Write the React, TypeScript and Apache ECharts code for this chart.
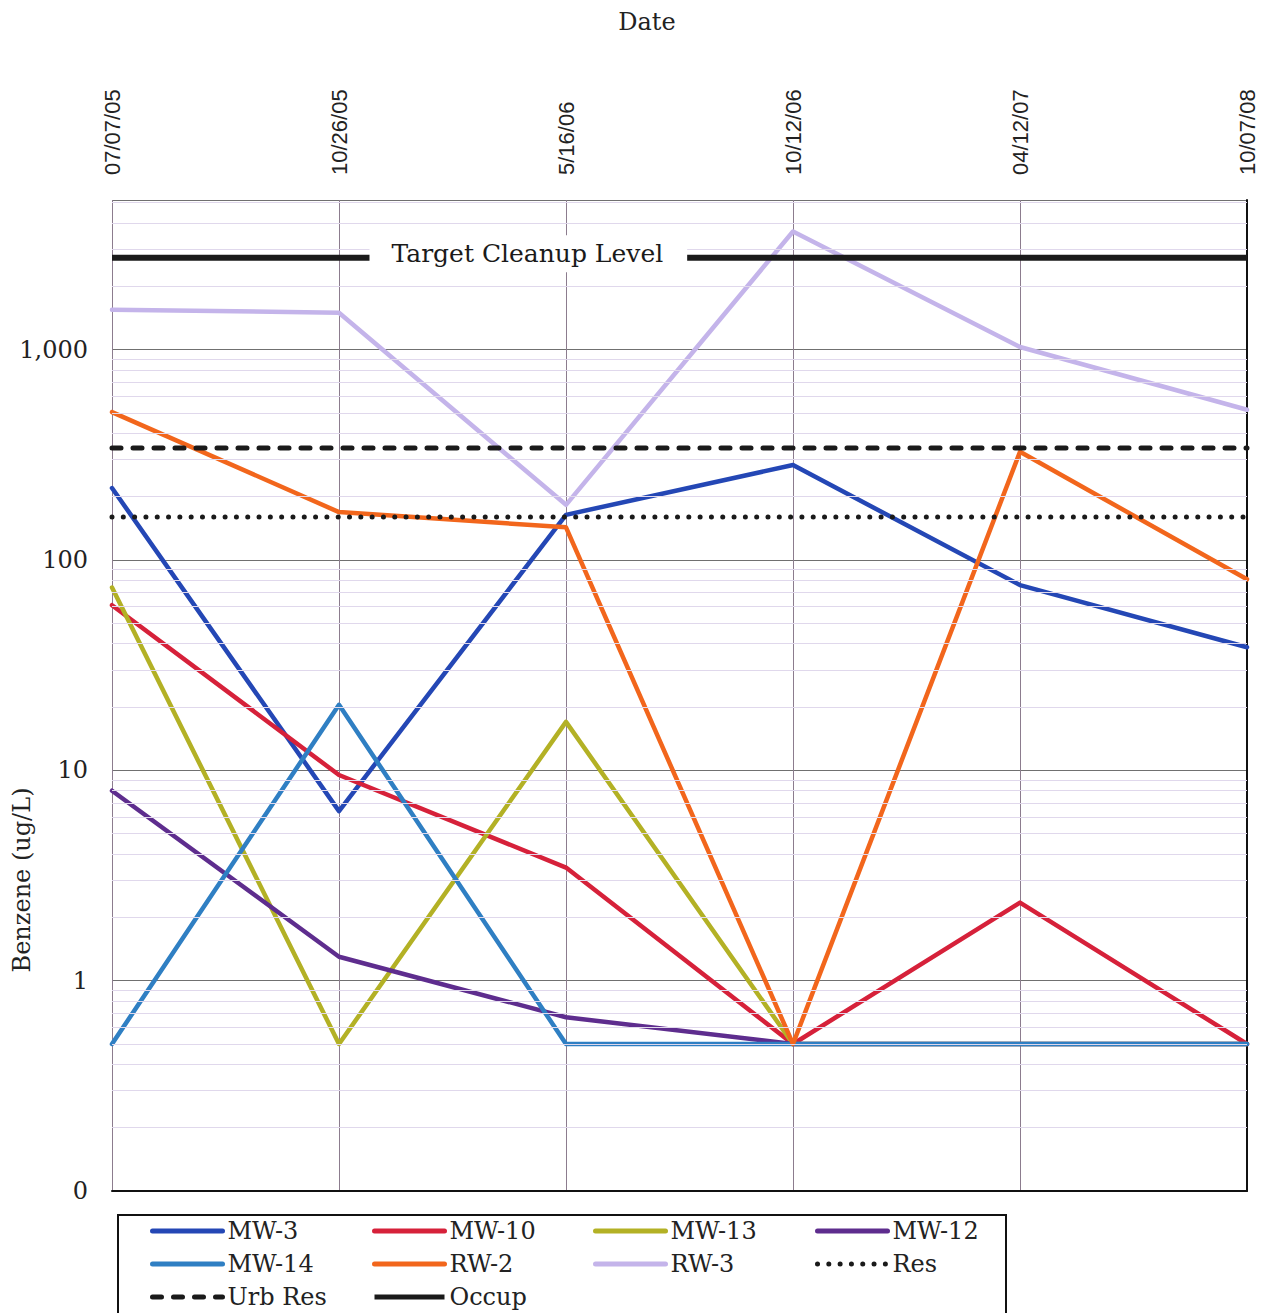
import React, { useEffect, useRef } from 'react';
import * as echarts from 'echarts';

const categories = ['07/07/05', '10/26/05', '5/16/06', '10/12/06', '04/12/07', '10/07/08'];
const mw3 = [220, 6.4, 164, 283, 76, 38.5];
const mw10 = [61, 9.5, 3.45, 0.5, 2.35, 0.5];
const mw13 = [74, 0.5, 17, 0.5, 0.5, 0.5];
const mw12 = [8.0, 1.3, 0.67, 0.5, 0.5, 0.5];
const mw14 = [0.5, 20.5, 0.5, 0.5, 0.5, 0.5];
const rw2 = [505, 169, 143, 0.5, 327, 81];
const rw3 = [1550, 1500, 183, 3650, 1030, 518];
const res = [160, 160, 160, 160, 160, 160];
const urbRes = [341, 341, 341, 341, 341, 341];
const occup = [2740, 2740, 2740, 2740, 2740, 2740];

const yMajorTicks = [0.1, 1, 10, 100, 1000];
const yTickLabels = ['0', '1', '10', '100', '1,000'];
const yMinorTicks = [
  0.2, 0.3, 0.4, 0.5, 0.6, 0.7, 0.8, 0.9,
  2, 3, 4, 5, 6, 7, 8, 9,
  20, 30, 40, 50, 60, 70, 80, 90,
  200, 300, 400, 500, 600, 700, 800, 900,
  2000, 3000, 4000, 5000,
];
const yMin = 0.1;
const yMax = 5150;

const SERIF = 'DejaVu Serif';
const SANS = 'Liberation Sans';

export default function App() {
  const ref = useRef<HTMLDivElement>(null);

  useEffect(() => {
    if (!ref.current) return;
    const chart = echarts.init(ref.current, null, { renderer: 'svg' });

    const lineSeries = (name: string, data: any[], color: string, style: any = {}) => ({
      type: 'line',
      name,
      data,
      symbol: 'none',
      xAxisIndex: 0,
      yAxisIndex: 0,
      color,
      itemStyle: { color },
      lineStyle: { color, width: 4.5, cap: 'round', join: 'round', ...style },
      emphasis: { disabled: true },
    });

    const legendBase = {
      orient: 'vertical',
      padding: 0,
      itemWidth: 70,
      itemHeight: 24,
      itemGap: 9,
      top: 1219,
      textStyle: { fontFamily: SERIF, fontSize: 24, color: '#222', lineHeight: 24 },
      selectedMode: false,
      itemStyle: { opacity: 0 },
      lineStyle: { width: 5 },
    };

    chart.setOption({
      animation: false,
      backgroundColor: '#ffffff',
      grid: { left: 112, right: 23, top: 200, bottom: 122, outerBoundsMode: 'none' },
      xAxis: [
        {
          type: 'category',
          data: categories,
          boundaryGap: false,
          position: 'top',
          axisLine: { show: false },
          axisTick: { show: false },
          axisLabel: { rotate: -90, fontFamily: SANS, fontSize: 22, color: '#222', margin: 25 },
          splitLine: { show: true, lineStyle: { color: '#8c7c8e', width: 1 } },
        },
        {
          type: 'category',
          data: categories,
          boundaryGap: false,
          position: 'bottom',
          axisLine: { show: true, lineStyle: { color: '#111', width: 2 } },
          axisTick: { show: false },
          axisLabel: { show: false },
          splitLine: { show: false },
        },
      ],
      yAxis: [
        {
          type: 'log',
          logBase: 10,
          min: yMin,
          max: yMax,
          axisLine: { show: false },
          axisTick: { show: false },
          axisLabel: {
            fontFamily: SERIF,
            fontSize: 24,
            color: '#222',
            margin: 24,
            formatter: (v: number) => {
              const idx = yMajorTicks.findIndex((t) => Math.abs(t - v) / t < 1e-6);
              return idx >= 0 ? yTickLabels[idx] : '';
            },
          },
          splitLine: { show: true, lineStyle: { color: '#707070', width: 1 } },
        },
        {
          type: 'log',
          logBase: 10,
          min: yMin,
          max: yMax,
          position: 'right',
          axisLine: { show: true, lineStyle: { color: '#111', width: 2 } },
          axisTick: { show: false },
          axisLabel: { show: false },
          splitLine: { show: false },
        },
      ],
      legend: [
        { ...legendBase, left: 150, data: ['MW-3', 'MW-14', 'Urb Res'] },
        { ...legendBase, left: 372, data: ['MW-10', 'RW-2', 'Occup'] },
        { ...legendBase, left: 593, data: ['MW-13', 'RW-3'] },
        { ...legendBase, left: 815, data: ['MW-12', 'Res'] },
      ],
      graphic: [
        {
          type: 'text',
          x: 647,
          y: 22,
          style: { text: 'Date', fontFamily: SERIF, fontSize: 24, fill: '#222', align: 'center', verticalAlign: 'middle' },
        },
        {
          type: 'text',
          x: 22,
          y: 880,
          rotation: Math.PI / 2,
          style: { text: 'Benzene (ug/L)', fontFamily: SERIF, fontSize: 24, fill: '#222', align: 'center', verticalAlign: 'middle' },
        },
        {
          type: 'rect',
          shape: { x: 118, y: 1215, width: 888, height: 130 },
          style: { fill: 'none', stroke: '#111', lineWidth: 2 },
          z: 10,
        },
      ],
      series: [
        {
          type: 'line',
          name: 'minor',
          data: [],
          z: 1,
          silent: true,
          markLine: {
            silent: true,
            symbol: 'none',
            label: { show: false },
            emphasis: { disabled: true },
            lineStyle: { color: '#e0d8ec', width: 1, type: 'solid' },
            data: yMinorTicks.map((v) => ({ yAxis: v })),
          },
        },
        lineSeries('MW-3', mw3, '#2447b5'),
        lineSeries('MW-10', mw10, '#d6213a'),
        lineSeries('MW-13', mw13, '#b3b125'),
        lineSeries('MW-12', mw12, '#5e2d8e'),
        lineSeries('MW-14', mw14, '#2f7fc3'),
        lineSeries('RW-2', rw2, '#f2661c'),
        lineSeries('RW-3', rw3, '#c4b4ea'),
        lineSeries('Res', res, '#1a1a1a', { width: 5, type: [0.01, 11.3], cap: 'round' }),
        lineSeries('Urb Res', urbRes, '#1a1a1a', { width: 5, type: [9, 12], cap: 'round' }),
        {
          ...lineSeries('Occup', occup, '#1a1a1a', { width: 6, cap: 'butt' }),
          z: 3,
          markPoint: {
            silent: true,
            symbol: 'rect',
            symbolSize: 1,
            itemStyle: { color: '#1a1a1a' },
            z: 5,
            data: [
              {
                coord: [categories[1], occup[1]],
                label: {
                  show: true,
                  position: 'right',
                  distance: 30,
                  formatter: 'Target Cleanup Level',
                  fontFamily: SERIF,
                  fontSize: 25,
                  color: '#1a1a1a',
                  backgroundColor: '#ffffff',
                  padding: [6, 24, 6, 22],
                  offset: [0, -4],
                },
              },
            ],
          },
        },
      ],
    });

    return () => chart.dispose();
  }, []);

  return <div ref={ref} style={{ position: 'fixed', left: 0, top: 0, width: 1270, height: 1313 }} />;
}
